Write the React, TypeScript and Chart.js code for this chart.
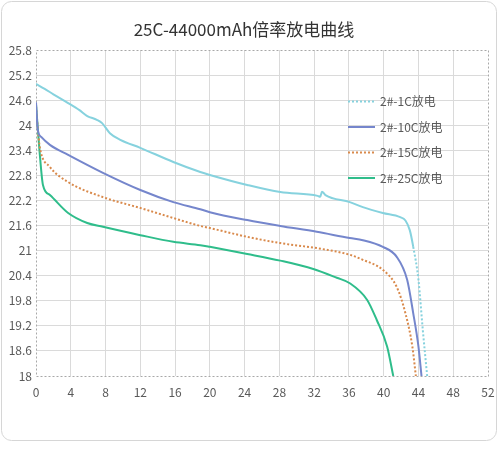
import React, { useEffect, useRef } from 'react';
import { Chart, registerables, Plugin } from 'chart.js';

Chart.register(...registerables);

const FONT = '"Noto Sans CJK SC", "Noto Sans", sans-serif';

const seriesNames = ['2#-1C放电', '2#-10C放电', '2#-15C放电', '2#-25C放电'];
const seriesColors = ['#86d2de', '#7586cc', '#d98a4c', '#2fbd8b'];

// capacity (Ah) and voltage (V)
const c1X = [0, 1, 2, 3.7, 5, 5.9, 7.0, 7.6, 8.5, 9.7, 12, 15.8, 18.9, 20, 24.3, 28.1, 32.4, 32.7, 32.9, 33.3, 36.1, 37.6, 39.9, 41.9, 42.5, 43.0, 43.4, 44.0, 44.5, 45.0];
const c1V = [24.99, 24.87, 24.74, 24.53, 24.36, 24.22, 24.13, 24.05, 23.81, 23.65, 23.46, 23.12, 22.88, 22.81, 22.57, 22.4, 22.31, 22.29, 22.41, 22.33, 22.16, 22.04, 21.9, 21.8, 21.72, 21.49, 21.09, 20.3, 19.1, 18.0];

const c10X = [0, 0.2, 0.6, 1.6, 3.7, 7.7, 12, 15.8, 18.9, 20, 24.3, 28.1, 32.3, 36.1, 37.6, 39.9, 41.5, 42.7, 43.4, 44.0, 44.35];
const c10V = [24.55, 23.9, 23.72, 23.53, 23.29, 22.86, 22.45, 22.16, 21.99, 21.92, 21.73, 21.59, 21.45, 21.3, 21.25, 21.09, 20.85, 20.3, 19.5, 18.7, 18.0];

const c15X = [0, 0.3, 0.5, 1.6, 3.7, 7.7, 12, 15.8, 18.9, 20, 24.3, 28.1, 32.3, 36.1, 37.6, 39.9, 41.5, 42.5, 43.3, 43.7];
const c15V = [24.45, 23.7, 23.4, 23.0, 22.64, 22.28, 22.02, 21.78, 21.59, 21.54, 21.33, 21.18, 21.06, 20.9, 20.78, 20.54, 20.13, 19.5, 18.7, 18.0];

const c25X = [0, 0.4, 0.8, 1.6, 3.7, 5.9, 7.7, 12, 15.8, 18.9, 20, 24.3, 28.1, 31.9, 34.6, 36.1, 38.1, 39.2, 40.4, 41.1];
const c25V = [24.5, 23.4, 22.57, 22.33, 21.9, 21.66, 21.57, 21.37, 21.21, 21.13, 21.09, 20.92, 20.76, 20.56, 20.35, 20.22, 19.82, 19.34, 18.7, 18.0];

const xMin = 0;
const xMax = 52;
const xStep = 4;
const yMin = 18;
const yMax = 25.8;
const yStep = 0.6;

const legendDash = [[2, 2], [], [2, 2], []];

const toPoints = (xs: number[], ys: number[]) => xs.map((x, i) => ({ x, y: ys[i] }));

// white card with rounded border behind everything
const cardPlugin: Plugin = {
  id: 'card',
  beforeDraw(chart) {
    const { ctx } = chart;
    ctx.save();
    ctx.fillStyle = '#ffffff';
    ctx.strokeStyle = '#d6d6d6';
    ctx.lineWidth = 1;
    ctx.beginPath();
    ctx.roundRect(1.5, 1.5, 495, 439, 10);
    ctx.fill();
    ctx.stroke();
    ctx.restore();
  },
};

// dotted frame round the plot area
const framePlugin: Plugin = {
  id: 'frame',
  beforeDatasetsDraw(chart) {
    const { ctx, chartArea: a } = chart;
    ctx.save();
    ctx.strokeStyle = '#a8a8a8';
    ctx.lineWidth = 1;
    ctx.setLineDash([2, 2]);
    ctx.strokeRect(Math.round(a.left) + 0.5, Math.round(a.top) + 0.5, Math.round(a.right - a.left), Math.round(a.bottom - a.top));
    ctx.restore();
  },
};

// legend inside the plot, top right
const legendPlugin: Plugin = {
  id: 'innerLegend',
  afterDatasetsDraw(chart) {
    const { ctx } = chart;
    const x0 = 348;
    const y0 = 101.5;
    const rowH = 25.5;
    ctx.save();
    chart.data.datasets.forEach((ds, i) => {
      const y = y0 + i * rowH;
      ctx.strokeStyle = ds.borderColor as string;
      ctx.lineWidth = 2;
      ctx.setLineDash(legendDash[i]);
      ctx.beginPath();
      ctx.moveTo(x0, y);
      ctx.lineTo(x0 + 27, y);
      ctx.stroke();
      ctx.setLineDash([]);
      ctx.fillStyle = '#595959';
      ctx.font = `12px ${FONT}`;
      ctx.textBaseline = 'middle';
      ctx.textAlign = 'left';
      ctx.fillText(ds.label as string, x0 + 32, y);
    });
    ctx.restore();
  },
};

const App: React.FC = () => {
  const chartRef = useRef<HTMLCanvasElement>(null);
  const chartInstance = useRef<Chart | null>(null);

  useEffect(() => {
    if (!chartRef.current) return;
    if (chartInstance.current) chartInstance.current.destroy();

    const xs = [c1X, c10X, c15X, c25X];
    const ys = [c1V, c10V, c15V, c25V];
    const nY = Math.round((yMax - yMin) / yStep);
    const nX = Math.round((xMax - xMin) / xStep);

    chartInstance.current = new Chart(chartRef.current, {
      type: 'line',
      data: {
        datasets: seriesNames.map((name, i) => ({
          label: name,
          data: toPoints(xs[i], ys[i]),
          borderColor: seriesColors[i],
          backgroundColor: seriesColors[i],
          borderWidth: 2,
          pointRadius: 0,
          cubicInterpolationMode: 'monotone' as const,
          borderDash: i === 2 ? [2, 2] : [],
          segment:
            i === 0
              ? { borderDash: (c: any) => (c.p0.parsed.x >= 43.4 ? [2, 2] : undefined) }
              : undefined,
          order: i,
        })),
      },
      options: {
        animation: false,
        responsive: true,
        maintainAspectRatio: false,
        layout: { padding: { left: 0, right: 11, top: 0, bottom: 44 } },
        plugins: {
          legend: { display: false },
          tooltip: { enabled: false },
          title: {
            display: true,
            text: '25C-44000mAh倍率放电曲线',
            color: '#333333',
            font: { family: FONT, size: 17, weight: 'normal' },
            padding: { top: 19, bottom: 10.6 },
          },
        },
        scales: {
          x: {
            type: 'linear',
            min: xMin,
            max: xMax,
            afterFit: (s: any) => {
              s.height = 30;
              s.paddingLeft = 0;
              s.paddingRight = 0;
            },
            ticks: {
              stepSize: xStep,
              color: '#595959',
              font: { family: FONT, size: 12 },
              padding: 9,
              maxRotation: 0,
            },
            grid: {
              drawTicks: false,
              color: (c: any) => (c.index === 0 || c.index === nX ? 'transparent' : '#dadada'),
            },
            border: { display: false },
          },
          y: {
            type: 'linear',
            min: yMin,
            max: yMax,
            afterFit: (s: any) => {
              s.width = 36;
            },
            ticks: {
              stepSize: yStep,
              color: '#595959',
              font: { family: FONT, size: 12 },
              padding: 4,
              callback: (v: any) => String(Number(Number(v).toFixed(1))),
            },
            grid: {
              drawTicks: false,
              color: (c: any) => (c.index === 0 || c.index === nY ? 'transparent' : '#dadada'),
            },
            border: { display: false },
          },
        },
      },
      plugins: [cardPlugin, framePlugin, legendPlugin],
    });

    return () => {
      if (chartInstance.current) {
        chartInstance.current.destroy();
        chartInstance.current = null;
      }
    };
  }, []);

  return (
    <div style={{ position: 'absolute', left: 0, top: 0, width: 499, height: 450, background: '#fff' }}>
      <canvas ref={chartRef} />
    </div>
  );
};

export default App;
